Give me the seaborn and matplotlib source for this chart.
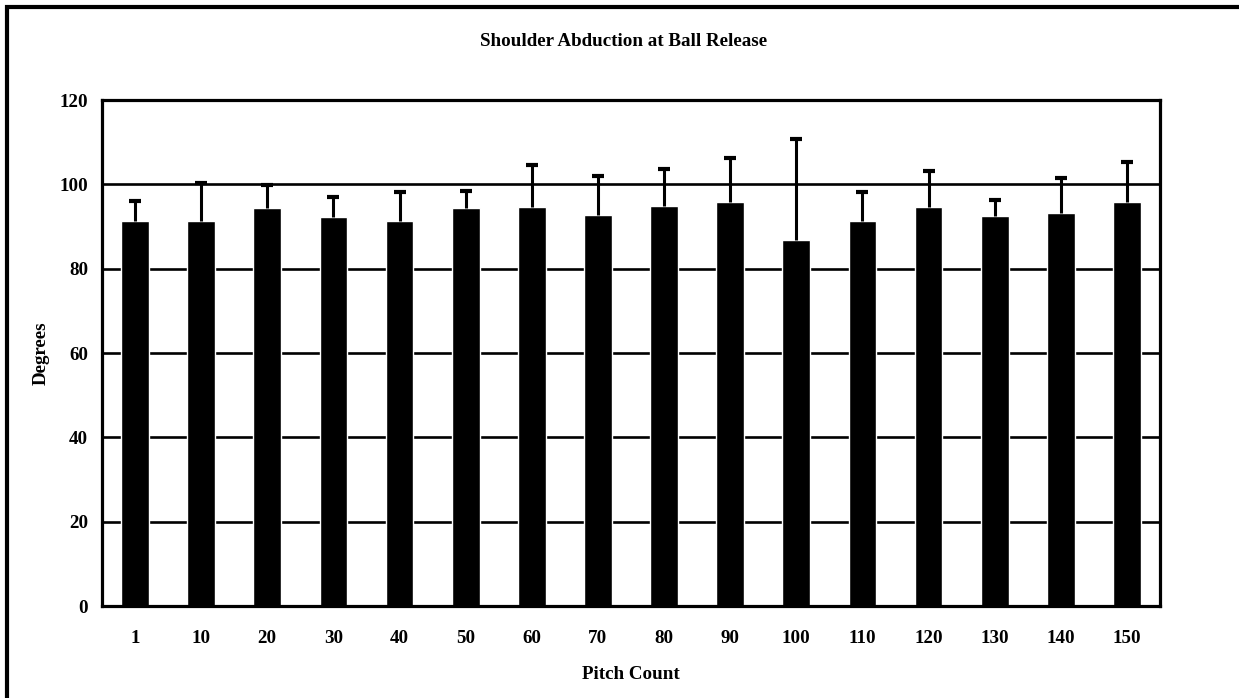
# Shoulder abduction at ball release, bar chart + upper SD error bars
import numpy as np
import pandas as pd
import matplotlib
matplotlib.use("Agg")
import matplotlib.pyplot as plt
import seaborn as sns
from matplotlib.patches import Rectangle

pitch_count = ["1", "10", "20", "30", "40", "50", "60", "70", "80", "90",
               "100", "110", "120", "130", "140", "150"]
mean_deg = [91.2, 91.2, 94.3, 92.3, 91.2, 94.3, 94.7, 92.8, 94.9, 95.8,
            86.8, 91.4, 94.7, 92.5, 93.2, 95.8]
sd_deg = [4.8, 9.2, 5.5, 4.6, 6.9, 4.1, 10.0, 9.1, 8.7, 10.4,
          24.0, 6.9, 8.5, 3.7, 8.3, 9.5]

df = pd.DataFrame({"pitch": pitch_count, "deg": mean_deg, "sd": sd_deg})

sns.set_style("white")
plt.rcParams["font.family"] = ["Liberation Serif", "DejaVu Serif"]
plt.rcParams["font.weight"] = "bold"
# seaborn 기본 회색 글자 -> 검정
plt.rcParams["text.color"] = "black"
plt.rcParams["axes.labelcolor"] = "black"
plt.rcParams["xtick.color"] = "black"
plt.rcParams["ytick.color"] = "black"

FS = 13.7

fig = plt.figure(figsize=(12.39, 6.98), dpi=100)
ax = fig.add_axes([0.0823, 0.1318, 0.8539, 0.7249])

# 바깥 테두리 (오른쪽/아래는 잘려 있음)
fig.patches.append(Rectangle((7 / 1239, -0.1), 1.2, 1 - 7 / 698 + 0.1,
                             transform=fig.transFigure, fill=False,
                             edgecolor="black", linewidth=3, zorder=0))

# gridlines first so bars cover them
for yv in [20, 40, 60, 80, 100]:
    ax.axhline(yv, color="black", linewidth=1.9, zorder=1)

sns.barplot(data=df, x="pitch", y="deg", color="black", width=0.42,
            saturation=1, errorbar=None, ax=ax, zorder=2)

xpos = np.arange(len(df))
_, caps, _ = ax.errorbar(xpos, df["deg"], yerr=[np.zeros(len(df)), df["sd"]],
                         fmt="none", ecolor="black", elinewidth=2.2,
                         capsize=4.3, capthick=3, zorder=3)
caps[0].set_visible(False)   # 아래쪽 cap 숨김

ax.set_ylim(0, 120)
ax.set_xlim(-0.5, len(df) - 0.5)
ax.set_yticks([0, 20, 40, 60, 80, 100, 120])
ax.tick_params(length=0, labelsize=FS, labelcolor="black")
ax.tick_params(axis="x", pad=17)
ax.tick_params(axis="y", pad=10)
for lab in ax.get_xticklabels() + ax.get_yticklabels():
    lab.set_fontweight("bold")

for s in ax.spines.values():
    s.set_linewidth(2.3)
    s.set_color("black")

ax.set_xlabel("Pitch Count", fontsize=FS, fontweight="bold", labelpad=14,
              color="black")
ax.set_ylabel("Degrees", fontsize=FS, fontweight="bold", labelpad=7,
              color="black")
fig.text(624 / 1239, 1 - 41 / 698, "Shoulder Abduction at Ball Release",
         ha="center", va="center", fontsize=FS, fontweight="bold",
         color="black")

fig.savefig("out.png", dpi=100)
